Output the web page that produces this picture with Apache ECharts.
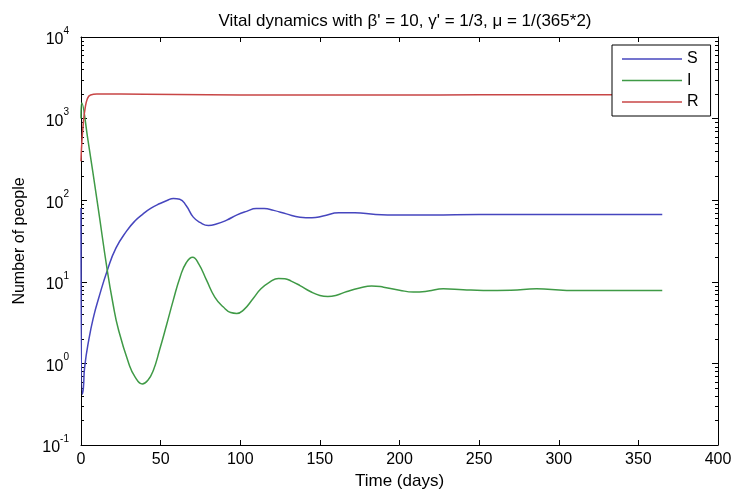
<!DOCTYPE html>
<html>
<head>
<meta charset="utf-8">
<script src="https://cdn.jsdelivr.net/npm/echarts@6/dist/echarts.min.js"></script>
<style>
html,body{margin:0;padding:0;background:#fff;}
#main{width:734px;height:492px;}
</style>
</head>
<body>
<div id="main"></div>
<script>
// values (log scale y)
var sDays = [0, 0.8, 1.5, 2.3, 5, 8, 11, 16.5, 22, 28.7, 34, 39, 44, 49.6, 54, 58, 62, 66, 70.5, 75, 80, 85, 91.5, 98, 104, 110, 115, 121, 129, 137.5, 145, 152, 162, 172, 185, 200, 220, 250, 280, 310, 340, 365];
var sValues = [80, 0.42, 0.5, 0.9, 2.0, 3.8, 6.2, 13.8, 26, 42, 56, 68, 80, 91, 99, 105, 103, 86, 62, 53, 49, 51, 57, 66, 73, 79, 79, 75, 68, 62, 61, 64, 70, 70, 67, 66, 66, 67, 67, 67, 67, 67];

var iDays = [0, 0.5, 4.4, 10.7, 16.5, 20, 23.5, 30, 34, 38.5, 42, 45.4, 49.5, 53.8, 58, 62.2, 66, 70.1, 74, 78.9, 84, 89.4, 94, 97.8, 102, 108, 113, 118.7, 124, 128, 132, 137.5, 144, 150, 155, 160, 167, 175, 182.5, 190, 200, 208.7, 218, 227.5, 240, 252.6, 270, 286, 305, 330, 365];
var iValues = [1000, 1550, 540, 82, 13.8, 5.5, 2.6, 1.0, 0.68, 0.56, 0.62, 0.82, 1.5, 3.0, 6.0, 11.4, 17, 20, 16.5, 10.4, 6.5, 4.9, 4.2, 4.1, 4.5, 6.2, 8.2, 10, 11, 10.9, 10.2, 9.0, 7.6, 6.8, 6.6, 6.8, 7.6, 8.4, 8.9, 8.6, 7.9, 7.5, 7.7, 8.2, 8.0, 7.85, 7.9, 8.2, 7.85, 7.85, 7.85];

var rDays = [0, 0.5, 1.5, 2.5, 4, 6, 10, 40, 80, 120, 160, 200, 250, 300, 365];
var rValues = [300, 500, 900, 1300, 1750, 1950, 2000, 1990, 1960, 1950, 1940, 1950, 1955, 1960, 1960];

var xTicks = [0, 50, 100, 150, 200, 250, 300, 350, 400];
var yDecades = [0.1, 1, 10, 100, 1000, 10000];
var seriesNames = ['S', 'I', 'R'];
var seriesColors = ['#4646be', '#3f9a46', '#c84646'];

function pairs(xs, ys) {
  var out = [];
  for (var k = 0; k < xs.length; k++) out.push([xs[k], ys[k]]);
  return out;
}

// minor log ticks 2..9 in every decade
var minorTicks = [];
for (var d = 0; d < yDecades.length - 1; d++) {
  for (var m = 2; m <= 9; m++) minorTicks.push([0, Math.round(m * yDecades[d] * 1000) / 1000]);
}

var font = 'Liberation Sans, Arial, sans-serif';
var myChart = echarts.init(document.getElementById('main'));

var xBase = {
  type: 'value',
  min: xTicks[0],
  max: xTicks[xTicks.length - 1],
  interval: 50,
  axisLine: {show: true, onZero: false, lineStyle: {color: '#000', width: 1}},
  axisTick: {show: true, inside: true, length: 5, lineStyle: {color: '#000'}},
  splitLine: {show: false}
};
var yBase = {
  type: 'log',
  logBase: 10,
  min: yDecades[0],
  max: yDecades[yDecades.length - 1],
  axisLine: {show: true, onZero: false, lineStyle: {color: '#000', width: 1}},
  axisTick: {show: true, inside: true, length: 6, lineStyle: {color: '#000'}},
  splitLine: {show: false}
};

function lineSeries(idx, xs, ys) {
  return {
    name: seriesNames[idx], type: 'line', symbol: 'none', showSymbol: false, smooth: 0.5,
    lineStyle: {color: seriesColors[idx], width: 1.5},
    itemStyle: {color: seriesColors[idx]},
    data: pairs(xs, ys)
  };
}

var option = {
  backgroundColor: '#fff',
  animation: false,
  title: {
    text: "Vital dynamics with \u03B2' = 10, \u03B3' = 1/3, \u03BC = 1/(365*2)",
    left: 400,
    top: 8,
    textAlign: 'center',
    textStyle: {fontFamily: font, fontSize: 17, fontWeight: 'normal', color: '#000'}
  },
  grid: {left: 81, right: 16, top: 37, bottom: 47, outerBoundsMode: 'none'},
  legend: {
    data: seriesNames,
    orient: 'vertical',
    left: 612,
    top: 45,
    align: 'left',
    icon: 'rect',
    itemWidth: 60,
    itemHeight: 1.5,
    itemGap: 3.5,
    padding: [5, 12, 5, 10],
    borderColor: '#000',
    borderWidth: 1,
    borderRadius: 0,
    backgroundColor: '#fff',
    textStyle: {fontFamily: font, fontSize: 16, lineHeight: 18, color: '#000'}
  },
  xAxis: [
    echarts.util.merge({
      position: 'bottom',
      name: 'Time (days)',
      nameLocation: 'middle',
      nameGap: 25,
      nameTextStyle: {fontFamily: font, fontSize: 17, color: '#000'},
      axisLabel: {fontFamily: font, fontSize: 16, color: '#000', margin: 7}
    }, xBase, true),
    echarts.util.merge({
      position: 'top',
      axisLabel: {show: false}
    }, xBase, true)
  ],
  yAxis: [
    echarts.util.merge({
      position: 'left',
      name: 'Number of people',
      nameLocation: 'middle',
      nameGap: 53,
      nameTextStyle: {fontFamily: font, fontSize: 16, color: '#000'},
      axisLabel: {
        margin: 12,
        formatter: function (v) {
          return '{b|10}{e|' + Math.round(Math.log10(v)) + '}';
        },
        rich: {
          b: {fontFamily: font, fontSize: 16, color: '#000', lineHeight: 22, verticalAlign: 'bottom'},
          e: {fontFamily: font, fontSize: 10, color: '#000', lineHeight: 22, verticalAlign: 'top'}
        }
      }
    }, yBase, true),
    echarts.util.merge({
      position: 'right',
      axisLabel: {show: false}
    }, yBase, true)
  ],
  series: [
    lineSeries(0, sDays, sValues),
    lineSeries(1, iDays, iValues),
    lineSeries(2, rDays, rValues),
    {
      // minor log ticks on left and right frame
      type: 'custom',
      silent: true,
      data: minorTicks,
      renderItem: function (params, api) {
        var v = api.value(1);
        var pl = api.coord([0, v]);
        var pr = api.coord([400, v]);
        var y = Math.round(pl[1]) + 0.5;
        return {
          type: 'group',
          children: [
            {type: 'line', shape: {x1: pl[0], y1: y, x2: pl[0] + 3, y2: y}, style: {stroke: '#000', lineWidth: 1}},
            {type: 'line', shape: {x1: pr[0] - 3, y1: y, x2: pr[0], y2: y}, style: {stroke: '#000', lineWidth: 1}}
          ]
        };
      }
    }
  ]
};
myChart.setOption(option);
</script>
</body>
</html>
